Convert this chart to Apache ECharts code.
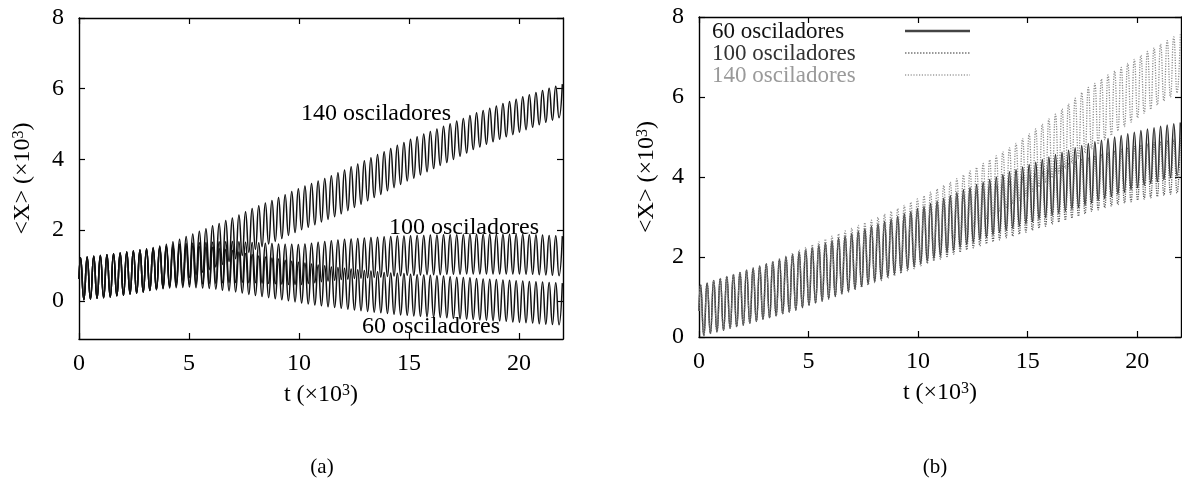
<!DOCTYPE html>
<html><head><meta charset="utf-8">
<script src="https://cdn.jsdelivr.net/npm/echarts@6/dist/echarts.min.js"></script>
<style>html,body{margin:0;padding:0;background:#fff}#c{width:1182px;height:497px}</style>
</head><body><div id="c"></div>
<script>
// sample times (x 10^3): start, then successive extrema (peak, trough, ...)
const tSamples = [0, 0.07, 0.22, 0.37, 0.52, 0.67, 0.82, 0.97, 1.12, 1.27, 1.42,
1.57, 1.72, 1.87, 2.02, 2.17, 2.32, 2.47, 2.62, 2.77, 2.92,
3.07, 3.22, 3.37, 3.52, 3.67, 3.82, 3.97, 4.12, 4.27, 4.42,
4.57, 4.72, 4.87, 5.02, 5.17, 5.32, 5.47, 5.62, 5.77, 5.92,
6.07, 6.22, 6.37, 6.52, 6.67, 6.82, 6.97, 7.12, 7.27, 7.42,
7.57, 7.72, 7.87, 8.02, 8.17, 8.32, 8.47, 8.62, 8.77, 8.92,
9.07, 9.22, 9.37, 9.52, 9.67, 9.82, 9.97, 10.12, 10.27, 10.42,
10.57, 10.72, 10.87, 11.02, 11.17, 11.32, 11.47, 11.62, 11.77, 11.92,
12.07, 12.22, 12.37, 12.52, 12.67, 12.82, 12.97, 13.12, 13.27, 13.42,
13.57, 13.72, 13.87, 14.02, 14.17, 14.32, 14.47, 14.62, 14.77, 14.92,
15.07, 15.22, 15.37, 15.52, 15.67, 15.82, 15.97, 16.12, 16.27, 16.42,
16.57, 16.72, 16.87, 17.02, 17.17, 17.32, 17.47, 17.62, 17.77, 17.92,
18.07, 18.22, 18.37, 18.52, 18.67, 18.82, 18.97, 19.12, 19.27, 19.42,
19.57, 19.72, 19.87, 20.02, 20.17, 20.32, 20.47, 20.62, 20.77, 20.92,
21.07, 21.22, 21.37, 21.52, 21.67, 21.82, 21.97];

// ---- panel (a) : <X> (x10^3) ----
const leftStart = [0.62];
const leftEarly = [1.22, 0.03, 1.24, 0.05, 1.26, 0.07, 1.28, 0.09, 1.30, 0.11,
1.33, 0.14, 1.35, 0.16, 1.38, 0.19, 1.41, 0.22, 1.44, 0.25];
const left140 = [1.47, 0.29, 1.51, 0.33, 1.55, 0.37, 1.60, 0.43, 1.67, 0.51,
1.74, 0.58, 1.82, 0.66, 1.89, 0.73, 1.97, 0.81, 2.04, 0.88,
2.12, 0.96, 2.19, 1.03, 2.27, 1.11, 2.34, 1.19, 2.43, 1.28,
2.52, 1.37, 2.61, 1.46, 2.69, 1.53, 2.77, 1.61, 2.84, 1.68,
2.92, 1.76, 3.00, 1.85, 3.09, 1.93, 3.17, 2.01, 3.25, 2.08,
3.32, 2.15, 3.39, 2.23, 3.46, 2.30, 3.54, 2.38, 3.62, 2.46,
3.70, 2.55, 3.79, 2.64, 3.87, 2.73, 3.96, 2.83, 4.05, 2.92,
4.14, 3.01, 4.22, 3.11, 4.31, 3.20, 4.40, 3.29, 4.48, 3.39,
4.57, 3.47, 4.64, 3.56, 4.72, 3.65, 4.79, 3.74, 4.86, 3.83,
4.94, 3.91, 5.01, 4.00, 5.09, 4.09, 5.16, 4.18, 5.24, 4.28,
5.32, 4.35, 5.38, 4.43, 5.45, 4.50, 5.51, 4.57, 5.58, 4.64,
5.64, 4.70, 5.70, 4.77, 5.77, 4.84, 5.83, 4.91, 5.89, 4.98,
5.95, 5.05, 6.01, 5.11, 6.07, 5.18, 6.13];
const left100 = [1.46, 0.30, 1.49, 0.33, 1.52, 0.36, 1.55, 0.39, 1.58, 0.41,
1.60, 0.44, 1.62, 0.46, 1.63, 0.47, 1.64, 0.48, 1.65, 0.49,
1.66, 0.50, 1.67, 0.51, 1.67, 0.52, 1.68, 0.52, 1.67, 0.52,
1.66, 0.51, 1.65, 0.51, 1.64, 0.50, 1.63, 0.49, 1.62, 0.48,
1.61, 0.47, 1.60, 0.46, 1.60, 0.46, 1.59, 0.46, 1.61, 0.49,
1.63, 0.51, 1.66, 0.54, 1.68, 0.56, 1.70, 0.58, 1.72, 0.60,
1.74, 0.61, 1.75, 0.63, 1.76, 0.64, 1.78, 0.65, 1.79, 0.66,
1.80, 0.67, 1.81, 0.69, 1.82, 0.70, 1.83, 0.71, 1.83, 0.72,
1.84, 0.72, 1.85, 0.73, 1.85, 0.74, 1.86, 0.74, 1.86, 0.74,
1.87, 0.75, 1.87, 0.75, 1.87, 0.75, 1.87, 0.76, 1.88, 0.76,
1.88, 0.76, 1.88, 0.76, 1.88, 0.76, 1.88, 0.76, 1.88, 0.76,
1.88, 0.76, 1.88, 0.76, 1.88, 0.75, 1.87, 0.75, 1.87, 0.74,
1.86, 0.73, 1.85, 0.72, 1.84, 0.71, 1.83];
const left60 = [1.45, 0.29, 1.48, 0.31, 1.50, 0.34, 1.52, 0.36, 1.53, 0.37,
1.54, 0.38, 1.55, 0.39, 1.55, 0.37, 1.53, 0.36, 1.52, 0.35,
1.51, 0.33, 1.48, 0.30, 1.45, 0.28, 1.42, 0.25, 1.38, 0.22,
1.34, 0.18, 1.31, 0.15, 1.27, 0.12, 1.24, 0.09, 1.21, 0.06,
1.18, 0.03, 1.15, 0.00, 1.12, -0.03, 1.09, -0.06, 1.07, -0.09,
1.04, -0.12, 1.01, -0.14, 0.99, -0.17, 0.96, -0.19, 0.94, -0.21,
0.92, -0.24, 0.90, -0.26, 0.88, -0.28, 0.86, -0.30, 0.84, -0.32,
0.82, -0.34, 0.80, -0.36, 0.79, -0.38, 0.78, -0.40, 0.77, -0.41,
0.75, -0.43, 0.74, -0.44, 0.73, -0.45, 0.72, -0.46, 0.71, -0.47,
0.70, -0.48, 0.68, -0.50, 0.67, -0.51, 0.66, -0.52, 0.65, -0.53,
0.63, -0.54, 0.62, -0.55, 0.61, -0.56, 0.60, -0.57, 0.59, -0.58,
0.58, -0.60, 0.57, -0.61, 0.56, -0.62, 0.55, -0.63, 0.54, -0.65,
0.53, -0.66, 0.52, -0.67, 0.51, -0.68, 0.50];

// ---- panel (b) ----
const rightStart = [0.65];
const rightEarly = [1.30, 0.04, 1.35, 0.09, 1.41, 0.13, 1.46, 0.17, 1.51, 0.22,
1.56, 0.26, 1.61, 0.30, 1.67, 0.35, 1.72, 0.39, 1.77, 0.44, 1.83, 0.48, 1.88, 0.53];
const right60 = [1.94, 0.58, 2.00, 0.62, 2.06, 0.67, 2.12, 0.73, 2.18, 0.79,
2.24, 0.85, 2.29, 0.90, 2.35, 0.96, 2.41, 1.02, 2.47, 1.08,
2.53, 1.14, 2.59, 1.20, 2.65, 1.26, 2.71, 1.33, 2.77, 1.39,
2.83, 1.45, 2.89, 1.51, 2.95, 1.58, 3.01, 1.64, 3.08, 1.71,
3.14, 1.77, 3.21, 1.84, 3.27, 1.90, 3.34, 1.97, 3.40, 2.04,
3.47, 2.11, 3.54, 2.17, 3.61, 2.24, 3.68, 2.31, 3.74, 2.37,
3.81, 2.43, 3.87, 2.49, 3.94, 2.55, 4.00, 2.61, 4.06, 2.66,
4.13, 2.72, 4.19, 2.77, 4.25, 2.83, 4.31, 2.88, 4.37, 2.94,
4.44, 2.99, 4.50, 3.04, 4.56, 3.09, 4.62, 3.14, 4.67, 3.19,
4.73, 3.24, 4.79, 3.29, 4.84, 3.35, 4.88, 3.41, 4.92, 3.46,
4.96, 3.51, 5.00, 3.57, 5.04, 3.62, 5.08, 3.68, 5.12, 3.73,
5.16, 3.79, 5.20, 3.84, 5.23, 3.88, 5.27, 3.93, 5.30, 3.98,
5.33, 4.03, 5.36];
const right100 = [1.94, 0.58, 2.00, 0.63, 2.05, 0.68, 2.11, 0.74, 2.16, 0.79,
2.22, 0.85, 2.27, 0.90, 2.33, 0.95, 2.38, 1.01, 2.44, 1.07,
2.50, 1.12, 2.55, 1.18, 2.61, 1.24, 2.67, 1.30, 2.73, 1.36,
2.78, 1.41, 2.84, 1.47, 2.90, 1.53, 2.96, 1.59, 3.02, 1.65,
3.08, 1.71, 3.14, 1.78, 3.21, 1.84, 3.27, 1.90, 3.32, 1.95,
3.38, 2.01, 3.44, 2.07, 3.49, 2.12, 3.55, 2.18, 3.60, 2.23,
3.65, 2.28, 3.70, 2.33, 3.76, 2.38, 3.80, 2.43, 3.85, 2.48,
3.90, 2.52, 3.94, 2.57, 3.99, 2.62, 4.04, 2.67, 4.09, 2.72,
4.14, 2.77, 4.19, 2.82, 4.24, 2.87, 4.30, 2.92, 4.35, 2.97,
4.40, 3.02, 4.45, 3.08, 4.48, 3.14, 4.53, 3.18, 4.57, 3.23,
4.61, 3.27, 4.65, 3.31, 4.69, 3.35, 4.73, 3.38, 4.76, 3.42,
4.80, 3.45, 4.83, 3.48, 4.86, 3.51, 4.89, 3.54, 4.92, 3.57,
4.94, 3.60, 4.97];
const right140 = [1.95, 0.59, 2.03, 0.64, 2.10, 0.70, 2.18, 0.77, 2.24, 0.84,
2.31, 0.91, 2.38, 0.97, 2.45, 1.04, 2.52, 1.11, 2.58, 1.18,
2.65, 1.25, 2.72, 1.31, 2.79, 1.38, 2.86, 1.45, 2.92, 1.52,
2.99, 1.59, 3.07, 1.66, 3.14, 1.74, 3.21, 1.81, 3.29, 1.89,
3.37, 1.97, 3.45, 2.05, 3.53, 2.13, 3.62, 2.22, 3.70, 2.30,
3.79, 2.39, 3.87, 2.48, 3.96, 2.57, 4.05, 2.66, 4.15, 2.75,
4.24, 2.85, 4.34, 2.94, 4.43, 3.04, 4.53, 3.13, 4.63, 3.22,
4.73, 3.32, 4.84, 3.42, 4.96, 3.53, 5.08, 3.64, 5.20, 3.75,
5.32, 3.86, 5.45, 3.98, 5.57, 4.09, 5.70, 4.21, 5.83, 4.34,
5.97, 4.47, 6.11, 4.60, 6.24, 4.70, 6.34, 4.82, 6.45, 4.93,
6.55, 5.04, 6.65, 5.15, 6.74, 5.26, 6.84, 5.37, 6.94, 5.48,
7.04, 5.59, 7.14, 5.69, 7.23, 5.80, 7.32, 5.90, 7.41, 6.00,
7.50, 6.10, 7.59];

const xTicks = [0, 5, 10, 15, 20];
const yTicks = [0, 2, 4, 6, 8];
const legendNames = ['60 osciladores', '100 osciladores', '140 osciladores'];
const leftNotes = [
  {text: '140 osciladores', t: 13.5, v: 5.28},
  {text: '100 osciladores', t: 17.5, v: 2.06},
  {text: '60 osciladores', t: 16.0, v: -0.74}
];

const FONT = '"Liberation Serif", "Times New Roman", serif';
function pairs(early, late, start) {
  const vals = start.concat(early, late);
  const out = [];
  for (let i = 0; i < tSamples.length && i < vals.length; i++) out.push([tSamples[i], vals[i]]);
  return out;
}

const chart = echarts.init(document.getElementById('c'), null, {renderer: 'canvas'});
const axisLineStyle = {color: '#000', width: 1.4};
function xAx(grid, pos, withLabels) {
  const a = {
    gridIndex: grid, type: 'value', min: 0, max: 22, position: pos,
    axisLine: {show: true, onZero: false, lineStyle: axisLineStyle},
    axisTick: {show: true, inside: true, length: 6, customValues: xTicks, lineStyle: {color: '#000', width: 1.2}},
    axisLabel: {show: withLabels, customValues: xTicks, margin: 13, fontSize: 24, color: '#000', fontFamily: FONT},
    splitLine: {show: false}
  };
  if (withLabels) {
    a.name = 't (×10{sup|3})';
    a.nameLocation = 'middle';
    a.nameGap = 44;
    a.nameTextStyle = {fontSize: 24, color: '#000', fontFamily: FONT,
      rich: {sup: {fontSize: 16, fontFamily: FONT, color: '#000', verticalAlign: 'top'}}};
  }
  return a;
}
function yAx(grid, pos, withLabels, min, gap) {
  const a = {
    gridIndex: grid, type: 'value', min: min, max: 8, position: pos,
    axisLine: {show: true, onZero: false, lineStyle: axisLineStyle},
    axisTick: {show: true, inside: true, length: 6, customValues: yTicks, lineStyle: {color: '#000', width: 1.2}},
    axisLabel: {show: withLabels, customValues: yTicks, margin: 15, fontSize: 24, color: '#000', fontFamily: FONT},
    splitLine: {show: false}
  };
  if (withLabels) {
    a.name = '<X> (×10{sup|3})';
    a.nameLocation = 'middle';
    a.nameGap = gap;
    a.nameRotate = 90;
    a.nameTextStyle = {fontSize: 24, color: '#000', fontFamily: FONT,
      rich: {sup: {fontSize: 16, fontFamily: FONT, color: '#000', verticalAlign: 'top'}}};
  }
  return a;
}

const leftLine = (name, early, late) => ({
  name: name, type: 'line', xAxisIndex: 0, yAxisIndex: 0,
  data: pairs(early, late, leftStart), symbol: 'none', smooth: 0.5, silent: true,
  lineStyle: {color: '#111', width: 1.5}, itemStyle: {color: '#111'}
});

const option = {
  animation: false,
  backgroundColor: '#fff',
  grid: [
    {left: 79, top: 18, width: 484, height: 321},
    {left: 699, top: 17, width: 482, height: 320}
  ],
  xAxis: [xAx(0, 'bottom', true), xAx(0, 'top', false), xAx(1, 'bottom', true), xAx(1, 'top', false)],
  yAxis: [yAx(0, 'left', true, -1.08, 44), yAx(0, 'right', false, -1.08), yAx(1, 'left', true, 0, 40), yAx(1, 'right', false, 0)],
  series: [
    leftLine('a140', leftEarly, left140),
    leftLine('a100', leftEarly, left100),
    leftLine('a60', leftEarly, left60),
    {name: legendNames[0], type: 'line', xAxisIndex: 2, yAxisIndex: 2, z: 2,
      data: pairs(rightEarly, right60, rightStart), symbol: 'none', smooth: 0.5, silent: true,
      lineStyle: {color: '#2e2e2e', width: 1.5}, itemStyle: {color: '#2e2e2e'}},
    {name: legendNames[2], type: 'line', xAxisIndex: 2, yAxisIndex: 2, z: 3,
      data: pairs(rightEarly, right140, rightStart), symbol: 'none', smooth: 0.5, silent: true,
      lineStyle: {color: '#8c8c8c', width: 1.3, type: [1.2, 1.4]}, itemStyle: {color: '#8c8c8c'}},
    {name: legendNames[1], type: 'line', xAxisIndex: 2, yAxisIndex: 2, z: 4,
      data: pairs(rightEarly, right100, rightStart), symbol: 'none', smooth: 0.5, silent: true,
      lineStyle: {color: '#5a5a5a', width: 1.3, type: [1.2, 1.2]}, itemStyle: {color: '#5a5a5a'}}
  ]
};
chart.setOption(option);

const graphics = leftNotes.map(n => {
  const p = chart.convertToPixel({xAxisIndex: 0, yAxisIndex: 0}, [n.t, n.v]);
  return {type: 'text', x: p[0], y: p[1], z: 10,
    style: {text: n.text, fontSize: 24, fontFamily: FONT, fill: '#000', align: 'center', verticalAlign: 'middle'}};
});
// legend of panel (b): text on the left, line sample on the right
const legendRows = [
  {y: 32, color: '#111', line: {stroke: '#444', lineWidth: 2.6}},
  {y: 54, color: '#333', line: {stroke: '#777', lineWidth: 1.6, lineDash: [1.5, 1.5]}},
  {y: 76, color: '#9a9a9a', line: {stroke: '#a0a0a0', lineWidth: 1.6, lineDash: [1.2, 1.6]}}
];
legendRows.forEach((r, i) => {
  graphics.push({type: 'text', x: 712, y: r.y, z: 10,
    style: {text: legendNames[i], fontSize: 23, fontFamily: FONT, fill: r.color, align: 'left', verticalAlign: 'middle'}});
  graphics.push({type: 'line', z: 10, shape: {x1: 905, y1: r.y - 1, x2: 970, y2: r.y - 1}, style: r.line});
});
graphics.push({type: 'text', x: 322, y: 467, style: {text: '(a)', fontSize: 21, fontFamily: FONT, fill: '#000', align: 'center', verticalAlign: 'middle'}});
graphics.push({type: 'text', x: 935, y: 467, style: {text: '(b)', fontSize: 21, fontFamily: FONT, fill: '#000', align: 'center', verticalAlign: 'middle'}});
chart.setOption({graphic: graphics});
</script>
</body></html>
